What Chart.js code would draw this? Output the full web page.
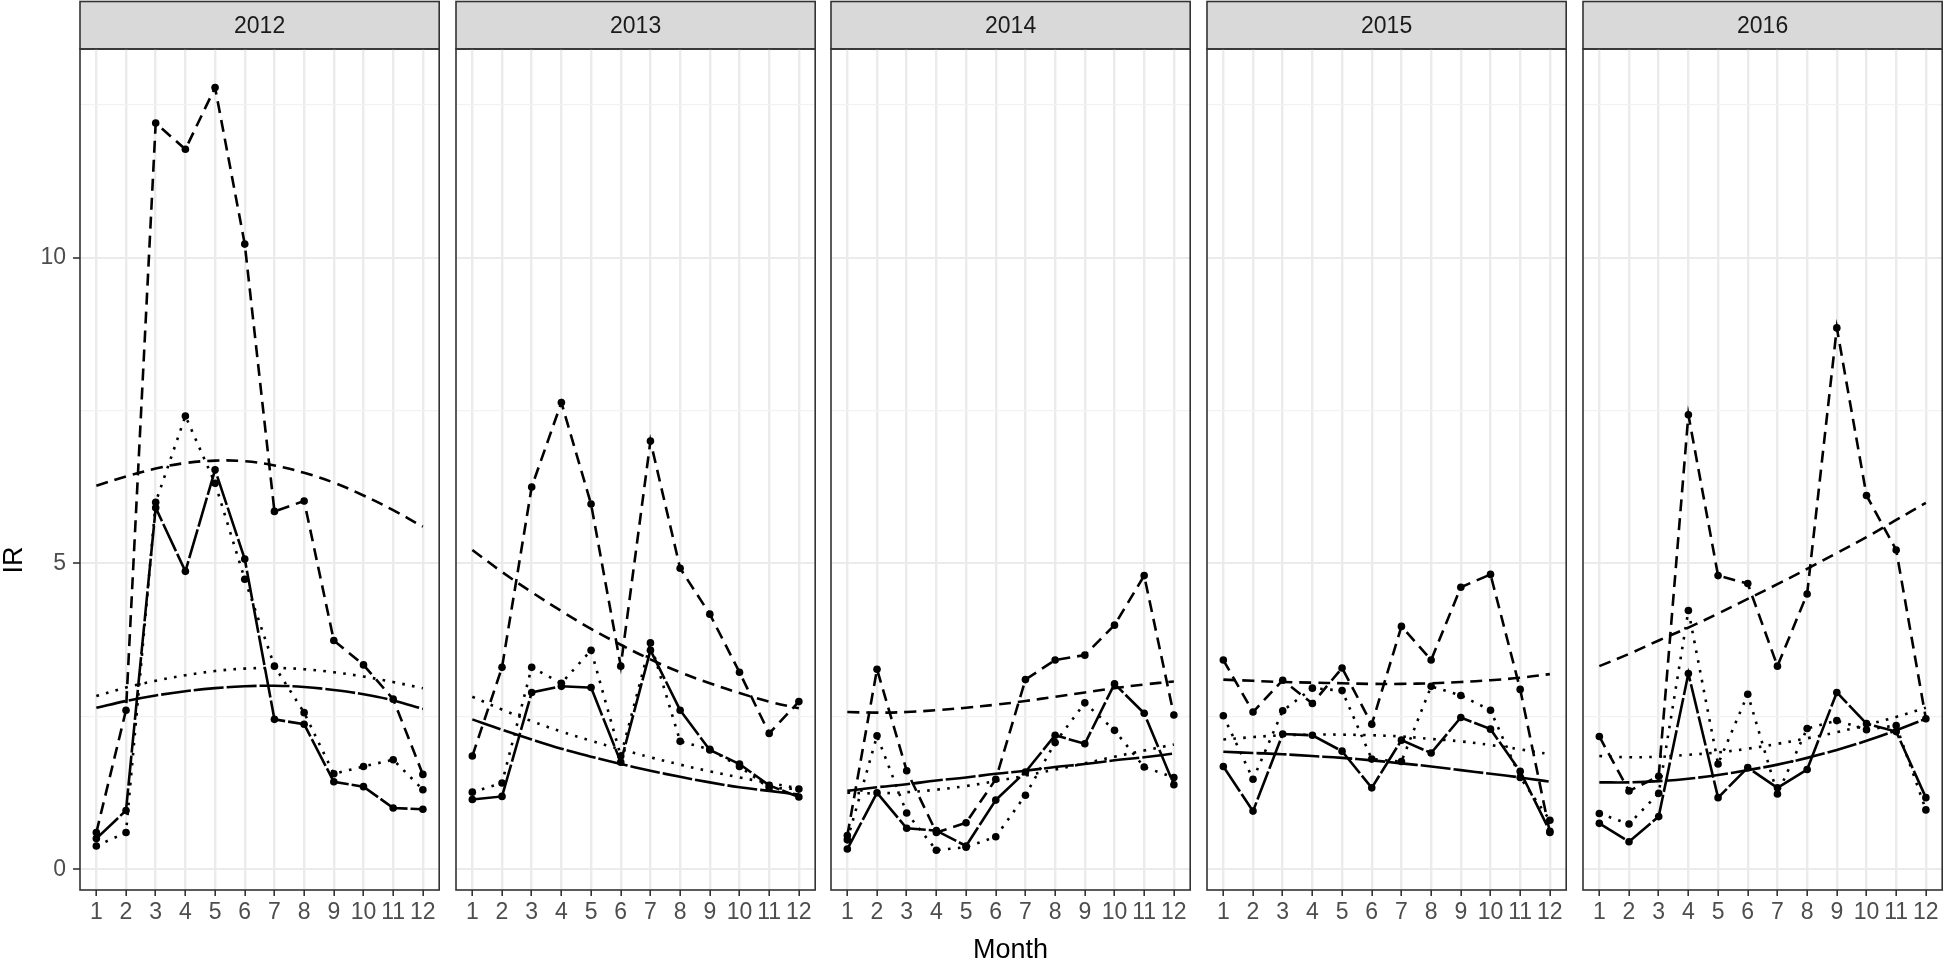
<!DOCTYPE html>
<html>
<head>
<meta charset="utf-8">
<title>IR by month, 2012-2016</title>
<script src="https://cdn.jsdelivr.net/npm/chart.js@4.4.1/dist/chart.umd.min.js"></script>
<style>
  html, body { margin: 0; padding: 0; background: #fff; }
  body { width: 1946px; height: 960px; overflow: hidden; position: relative; }
  .panel { position: absolute; top: 0; }
</style>
</head>
<body>
<script>
const months = [1, 2, 3, 4, 5, 6, 7, 8, 9, 10, 11, 12];
const years = ['2012', '2013', '2014', '2015', '2016'];
const yTickLabels = [0, 5, 10];

// observed IR, one array per line type and year
const solid2012  = [0.50, 0.96, 5.91, 4.87, 6.53, 5.07, 2.45, 2.37, 1.43, 1.35, 1.00, 0.98];
const dashed2012 = [0.60, 2.60, 12.20, 11.77, 12.78, 10.22, 5.85, 6.02, 3.74, 3.34, 2.78, 1.55];
const dotted2012 = [0.38, 0.60, 6.00, 7.41, 6.31, 4.74, 3.32, 2.56, 1.56, 1.68, 1.79, 1.30];

const solid2013  = [1.14, 1.19, 2.89, 2.99, 2.97, 1.75, 3.58, 2.60, 1.95, 1.72, 1.37, 1.18];
const dashed2013 = [1.85, 3.30, 6.25, 7.63, 5.97, 3.32, 7.00, 4.92, 4.17, 3.22, 2.22, 2.74];
const dotted2013 = [1.26, 1.41, 3.30, 3.04, 3.58, 1.85, 3.70, 2.09, 1.96, 1.68, 1.33, 1.31];

const solid2014  = [0.33, 1.25, 0.67, 0.63, 0.38, 1.13, 1.59, 2.19, 2.05, 3.03, 2.55, 1.38];
const dashed2014 = [0.55, 3.27, 1.61, 0.60, 0.76, 1.47, 3.10, 3.42, 3.50, 3.99, 4.80, 2.52];
const dotted2014 = [0.48, 2.18, 0.92, 0.31, 0.36, 0.53, 1.21, 2.07, 2.72, 2.27, 1.67, 1.50];

const solid2015  = [1.68, 0.95, 2.21, 2.19, 1.93, 1.33, 2.11, 1.90, 2.48, 2.29, 1.60, 0.62];
const dashed2015 = [3.42, 2.57, 3.09, 2.71, 3.29, 2.37, 3.97, 3.42, 4.61, 4.82, 2.94, 0.60];
const dotted2015 = [2.51, 1.47, 2.59, 2.96, 2.92, 1.80, 1.76, 2.99, 2.84, 2.60, 1.50, 0.80];

const solid2016  = [0.75, 0.45, 0.86, 3.20, 1.17, 1.66, 1.33, 1.63, 2.89, 2.38, 2.25, 1.17];
const dashed2016 = [2.17, 1.28, 1.52, 7.43, 4.80, 4.67, 3.32, 4.50, 8.85, 6.11, 5.22, 2.46];
const dotted2016 = [0.91, 0.74, 1.24, 4.23, 1.72, 2.86, 1.23, 2.30, 2.43, 2.28, 2.35, 0.97];

// fitted trend curves, read at each month
const solidFit2012  = [2.64, 2.75, 2.84, 2.91, 2.96, 2.99, 3.00, 2.98, 2.93, 2.86, 2.76, 2.62];
const dashedFit2012 = [6.27, 6.42, 6.55, 6.64, 6.68, 6.67, 6.60, 6.48, 6.32, 6.11, 5.87, 5.60];
const dottedFit2012 = [2.83, 2.97, 3.08, 3.17, 3.24, 3.28, 3.29, 3.27, 3.22, 3.15, 3.06, 2.96];

const solidFit2013  = [2.45, 2.28, 2.12, 1.97, 1.84, 1.72, 1.61, 1.51, 1.42, 1.34, 1.28, 1.22];
const dashedFit2013 = [5.22, 4.86, 4.53, 4.22, 3.93, 3.67, 3.43, 3.22, 3.04, 2.88, 2.74, 2.63];
const dottedFit2013 = [2.82, 2.61, 2.42, 2.25, 2.10, 1.96, 1.83, 1.71, 1.60, 1.50, 1.41, 1.32];

const solidFit2014  = [1.28, 1.34, 1.39, 1.45, 1.50, 1.56, 1.61, 1.67, 1.72, 1.78, 1.83, 1.89];
const dashedFit2014 = [2.57, 2.56, 2.57, 2.60, 2.64, 2.69, 2.75, 2.82, 2.89, 2.96, 3.02, 3.07];
const dottedFit2014 = [1.25, 1.24, 1.26, 1.30, 1.36, 1.44, 1.53, 1.63, 1.73, 1.84, 1.94, 2.04];

const solidFit2015  = [1.92, 1.90, 1.88, 1.85, 1.82, 1.78, 1.73, 1.68, 1.62, 1.56, 1.50, 1.43];
const dashedFit2015 = [3.10, 3.08, 3.06, 3.05, 3.04, 3.03, 3.03, 3.04, 3.06, 3.09, 3.13, 3.19];
const dottedFit2015 = [2.12, 2.16, 2.19, 2.20, 2.20, 2.19, 2.17, 2.13, 2.09, 2.03, 1.96, 1.88];

const solidFit2016  = [1.42, 1.42, 1.44, 1.48, 1.54, 1.62, 1.71, 1.82, 1.95, 2.10, 2.27, 2.46];
const dashedFit2016 = [3.32, 3.52, 3.74, 3.95, 4.18, 4.42, 4.66, 4.91, 5.17, 5.43, 5.71, 5.99];
const dottedFit2016 = [1.85, 1.83, 1.84, 1.87, 1.91, 1.97, 2.05, 2.14, 2.24, 2.36, 2.49, 2.64];

const observed = [
  [solid2012, dashed2012, dotted2012],
  [solid2013, dashed2013, dotted2013],
  [solid2014, dashed2014, dotted2014],
  [solid2015, dashed2015, dotted2015],
  [solid2016, dashed2016, dotted2016],
];
const fitted = [
  [solidFit2012, dashedFit2012, dottedFit2012],
  [solidFit2013, dashedFit2013, dottedFit2013],
  [solidFit2014, dashedFit2014, dottedFit2014],
  [solidFit2015, dashedFit2015, dottedFit2015],
  [solidFit2016, dashedFit2016, dottedFit2016],
];

const FONT = '"Liberation Sans", Arial, Helvetica, sans-serif';
const PANEL_LEFTS = [80, 456, 831, 1207, 1583];
const PANEL_W = 360;
const AXIS_W = 80;
const STRIP_BOTTOM = 49;
const CANVAS_H = 964;
const XAXIS_H = CANVAS_H - 890;
const DASHES = [[30, 3], [12, 7], [2.6, 7.4]];

const panelDeco = {
  id: 'panelDeco',
  beforeDraw(chart, args, opts) {
    const { ctx, chartArea: a } = chart;
    ctx.save();
    ctx.fillStyle = '#ffffff';
    ctx.fillRect(a.left, a.top, a.right - a.left, a.bottom - a.top);
    // facet strip
    ctx.fillStyle = '#D9D9D9';
    ctx.fillRect(a.left, 1.5, a.right - a.left, a.top - 1.5);
    ctx.strokeStyle = '#333333';
    ctx.lineWidth = 1.6;
    ctx.strokeRect(a.left, 1.5, a.right - a.left, a.top - 1.5);
    ctx.fillStyle = '#1A1A1A';
    ctx.font = `23px ${FONT}`;
    ctx.textAlign = 'center';
    ctx.textBaseline = 'middle';
    ctx.fillText(opts.label, (a.left + a.right) / 2, (a.top + 1.5) / 2 + 1);
    ctx.restore();
  },
  afterDatasetsDraw(chart) {
    const { ctx, chartArea: a } = chart;
    ctx.save();
    ctx.strokeStyle = '#333333';
    ctx.lineWidth = 1.6;
    ctx.strokeRect(a.left, a.top, a.right - a.left, a.bottom - a.top);
    ctx.restore();
  },
  afterDraw(chart, args, opts) {
    if (!opts.yTitle) return;
    const ctx = chart.ctx;
    ctx.save();
    ctx.translate(15, 560);
    ctx.rotate(-Math.PI / 2);
    ctx.font = `27px ${FONT}`;
    ctx.fillStyle = '#000000';
    ctx.textAlign = 'center';
    ctx.textBaseline = 'middle';
    ctx.fillText(opts.yTitle, 0, 0);
    ctx.restore();
  }
};

function toPoints(vals) {
  return vals.map((v, i) => ({ x: months[i], y: v }));
}

function lineSet(vals, dash, withPoints) {
  return {
    data: toPoints(vals),
    borderColor: '#000000',
    backgroundColor: '#000000',
    borderWidth: 2.6,
    borderDash: dash,
    pointRadius: withPoints ? 3.8 : 0,
    pointBorderWidth: 0,
    pointHoverRadius: 0,
    tension: withPoints ? 0 : 0.4,
    fill: false,
  };
}

function makePanel(i) {
  const first = i === 0;
  const div = document.createElement('div');
  div.className = 'panel';
  div.style.left = (PANEL_LEFTS[i] - AXIS_W) + 'px';
  const canvas = document.createElement('canvas');
  canvas.width = AXIS_W + PANEL_W + 3;
  canvas.height = CANVAS_H;
  div.appendChild(canvas);
  document.body.appendChild(div);

  const datasets = [];
  observed[i].forEach((vals, k) => datasets.push(lineSet(vals, DASHES[k], true)));
  fitted[i].forEach((vals, k) => datasets.push(lineSet(vals, DASHES[k], false)));

  const isMajor = v => yTickLabels.includes(v);

  return new Chart(canvas, {
    type: 'line',
    data: { datasets },
    plugins: [panelDeco],
    options: {
      responsive: false,
      devicePixelRatio: 1,
      animation: false,
      events: [],
      layout: { padding: { top: STRIP_BOTTOM, right: 3, left: 0, bottom: 0 } },
      plugins: {
        legend: { display: false },
        tooltip: { enabled: false },
        panelDeco: { label: years[i], yTitle: first ? 'IR' : '' },
      },
      scales: {
        x: {
          type: 'linear',
          min: 0.45,
          max: 12.55,
          afterFit: s => { s.height = XAXIS_H; },
          border: { display: false },
          grid: { color: '#EBEBEB', lineWidth: 2.4, tickColor: '#333333', tickLength: 6, tickWidth: 1.6 },
          ticks: {
            stepSize: 1,
            includeBounds: false,
            autoSkip: false,
            maxRotation: 0,
            padding: 3,
            color: '#4D4D4D',
            font: { family: FONT, size: 23 },
            callback: v => String(v),
          },
          title: {
            display: i === 2,
            text: 'Month',
            color: '#000000',
            padding: 0,
            font: { family: FONT, size: 27, lineHeight: 1 },
          },
        },
        y: {
          type: 'linear',
          min: -0.34,
          max: 13.41,
          afterFit: s => { s.width = AXIS_W; },
          border: { display: false },
          grid: {
            color: c => isMajor(c.tick.value) ? '#EBEBEB' : '#F2F2F2',
            lineWidth: c => isMajor(c.tick.value) ? 2 : 1.2,
            drawTicks: first,
            tickColor: c => isMajor(c.tick.value) ? '#333333' : 'rgba(0,0,0,0)',
            tickLength: 7,
            tickWidth: 1.6,
          },
          ticks: {
            display: first,
            stepSize: 2.5,
            includeBounds: false,
            autoSkip: false,
            padding: 7,
            color: '#4D4D4D',
            font: { family: FONT, size: 23 },
            callback: v => isMajor(v) ? String(v) : '',
          },
        },
      },
    },
  });
}

years.forEach((y, i) => makePanel(i));
</script>
</body>
</html>
